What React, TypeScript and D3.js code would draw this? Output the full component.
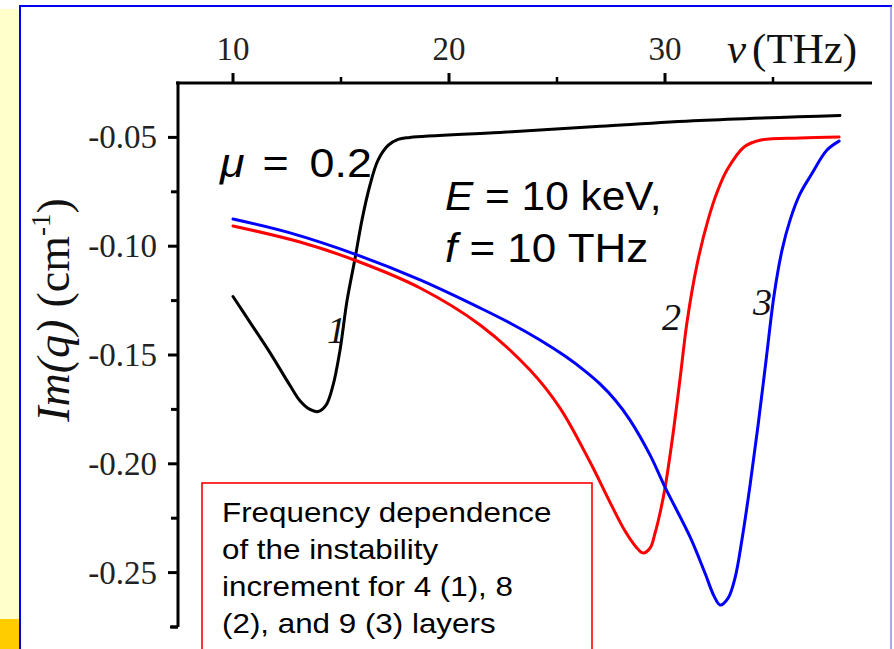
import React from "react";
import * as d3 from "d3";

// ---- data ----
const nu1 = [10, 10.79, 11.71, 12.64, 13.1, 13.56, 13.94, 14.3, 14.63, 14.95, 15.28, 15.65, 15.97, 16.34, 16.71, 17.18, 17.64, 18.19, 22.36, 27, 31.6, 38.1];
const im1 = [-0.1231, -0.135, -0.1489, -0.164, -0.171, -0.175, -0.176, -0.1732, -0.164, -0.148, -0.125, -0.1056, -0.088, -0.072, -0.0606, -0.0537, -0.0509, -0.05, -0.0477, -0.0449, -0.0422, -0.0399];

const nu2 = [10, 13.1, 15.74, 18.66, 21.44, 23.75, 25.14, 26.53, 27.45, 28.15, 28.66, 28.98, 29.31, 29.54, 29.77, 30.0, 30.32, 30.69, 31.02, 31.48, 31.99, 32.45, 32.87, 33.66, 34.44, 36.25, 38.06];
const im2 = [-0.0907, -0.0981, -0.1068, -0.1192, -0.1362, -0.1569, -0.1744, -0.1992, -0.2176, -0.2309, -0.2382, -0.241, -0.2387, -0.2318, -0.2226, -0.2111, -0.19, -0.1615, -0.1348, -0.1086, -0.088, -0.0742, -0.065, -0.0544, -0.0512, -0.0503, -0.0498];

const nu3 = [10, 12.64, 15.74, 18.66, 21.44, 22.82, 24.21, 25.37, 26.3, 26.99, 27.69, 28.38, 29.31, 30.0, 31.16, 31.85, 32.27, 32.55, 32.92, 33.24, 33.56, 33.94, 34.31, 34.68, 35.05, 35.42, 35.79, 36.25, 36.76, 37.5, 38.06];
const im3 = [-0.0875, -0.0939, -0.104, -0.1155, -0.1284, -0.1353, -0.1431, -0.1505, -0.1574, -0.1633, -0.1707, -0.1799, -0.196, -0.2107, -0.2336, -0.2502, -0.2608, -0.2649, -0.2617, -0.2525, -0.235, -0.2097, -0.1822, -0.1523, -0.1224, -0.1017, -0.088, -0.076, -0.0673, -0.0558, -0.0517];

const xMajor = [10, 20, 30];
const xMinor = [15, 25, 35];
const yMajor = [-0.05, -0.1, -0.15, -0.2, -0.25];
const yMinor = [-0.075, -0.125, -0.175, -0.225, -0.275];
const yTickLabels = ["-0.05", "-0.10", "-0.15", "-0.20", "-0.25"];

const curveLabels = [
  { t: "1", nu: 14.35, v: -0.1447 },
  { t: "2", nu: 29.86, v: -0.1387 },
  { t: "3", nu: 34.07, v: -0.1314 },
];

const captionLines = [
  "Frequency dependence",
  "of the instability",
  "increment for 4 (1), 8",
  "(2), and 9 (3) layers",
];

const W = 894;
const H = 649;

export default function App() {
  const x = d3.scaleLinear().domain([7.361, 39.583]).range([176, 872]);
  const y = d3.scaleLinear().domain([-0.275, -0.025]).range([627, 83]);
  const line = d3
    .line<[number, number]>()
    .x((d) => x(d[0]))
    .y((d) => y(d[1]))
    .curve(d3.curveCatmullRom.alpha(0.5));

  const series = [
    { nu: nu1, im: im1, color: "#000000" },
    { nu: nu2, im: im2, color: "#ff0000" },
    { nu: nu3, im: im3, color: "#0000ff" },
  ];

  const axisX0 = x.range()[0];
  const axisX1 = x.range()[1];
  const axisYTop = y.range()[1];
  const axisYBot = y.range()[0];
  const yAxisX = 178;

  const serif = "'Liberation Serif', 'Times New Roman', serif";
  const sans = "'Liberation Sans', Arial, sans-serif";
  const sx = 1.12;

  return (
    <svg
      width={W}
      height={H}
      style={{ position: "absolute", left: 0, top: 0, display: "block" }}
    >
      <rect x={0} y={0} width={W} height={H} fill="#ffffff" />
      {/* left decorative strip */}
      <rect x={0} y={9} width={19} height={H - 9} fill="#ffffcc" />
      <rect x={0} y={619} width={19} height={30} fill="#ffcc00" />
      {/* blue frame */}
      <line x1={20} y1={6} x2={892} y2={6} stroke="#0000ee" strokeWidth={2} />
      <line x1={20} y1={5} x2={20} y2={H} stroke="#0000ee" strokeWidth={2} />
      <line x1={891} y1={6} x2={891} y2={H} stroke="#5555cc" strokeWidth={1} />

      {/* axes */}
      <line x1={axisX0} y1={axisYTop} x2={axisX1} y2={axisYTop} stroke="#000" strokeWidth={3} />
      <line x1={yAxisX} y1={axisYTop - 1.5} x2={yAxisX} y2={axisYBot} stroke="#000" strokeWidth={3} />
      <line x1={yAxisX - 8} y1={axisYBot} x2={yAxisX} y2={axisYBot} stroke="#000" strokeWidth={3} />

      {xMajor.map((v) => (
        <g key={"xm" + v}>
          <line x1={x(v)} y1={axisYTop} x2={x(v)} y2={axisYTop - 10} stroke="#000" strokeWidth={3} />
          <text x={x(v)} y={60} textAnchor="middle" fontFamily={serif} fontSize={33} fill="#222">
            {String(v)}
          </text>
        </g>
      ))}
      {xMinor.map((v) => (
        <line key={"xn" + v} x1={x(v)} y1={axisYTop} x2={x(v)} y2={axisYTop - 6} stroke="#000" strokeWidth={2.5} />
      ))}
      {yMajor.map((v, i) => (
        <g key={"ym" + v}>
          <line x1={yAxisX - 10} y1={y(v)} x2={yAxisX} y2={y(v)} stroke="#000" strokeWidth={3} />
          <text x={157} y={y(v) + 11} textAnchor="end" fontFamily={serif} fontSize={33} fill="#222">
            {yTickLabels[i]}
          </text>
        </g>
      ))}
      {yMinor.map((v) => (
        <line key={"yn" + v} x1={yAxisX - 7} y1={y(v)} x2={yAxisX} y2={y(v)} stroke="#000" strokeWidth={3} />
      ))}

      {/* axis titles */}
      <text x={727} y={63} fontFamily={serif} fontSize={43} fill="#111">
        <tspan fontStyle="italic">ν</tspan>
        <tspan dx={6}>(THz)</tspan>
      </text>
      <text
        transform="translate(69,310) rotate(-90)"
        textAnchor="middle"
        fontFamily={serif}
        fontSize={46}
        fill="#111"
      >
        <tspan fontStyle="italic">Im(q)</tspan>
        <tspan dx={12}>(cm</tspan>
        <tspan fontSize={27} dy={-19}>-1</tspan>
        <tspan dy={19}>)</tspan>
      </text>

      {/* curves */}
      {series.map((s, i) => (
        <path
          key={"s" + i}
          d={line(s.nu.map((n, j) => [n, s.im[j]] as [number, number])) || ""}
          fill="none"
          stroke={s.color}
          strokeWidth={3}
          strokeLinejoin="round"
          strokeLinecap="round"
        />
      ))}

      {/* curve numbers */}
      {curveLabels.map((c) => (
        <text
          key={"cl" + c.t}
          x={x(c.nu)}
          y={y(c.v)}
          fontFamily={serif}
          fontStyle="italic"
          fontSize={38}
          fill="#111"
        >
          {c.t}
        </text>
      ))}

      {/* annotations */}
      <g transform={`translate(220,177) scale(${sx},1)`}>
        <text x={0} y={0} fontFamily={sans} fontSize={40} fill="#000">
          <tspan fontStyle="italic">μ</tspan>
          <tspan x={38}>=</tspan>
          <tspan x={80}>0.2</tspan>
        </text>
      </g>
      <g transform={`translate(445,210) scale(1.06,1)`}>
        <text x={0} y={0} fontFamily={sans} fontSize={40} fill="#000">
          <tspan fontStyle="italic">E</tspan>
          <tspan> = 10 keV,</tspan>
        </text>
      </g>
      <g transform={`translate(445,262) scale(1.1,1)`}>
        <text x={0} y={0} fontFamily={sans} fontSize={40} fill="#000">
          <tspan fontStyle="italic">f</tspan>
          <tspan> = 10 THz</tspan>
        </text>
      </g>

      {/* caption box */}
      <rect x={202} y={483} width={390} height={200} fill="#ffffff" stroke="#ff0000" strokeWidth={1.6} />
      {captionLines.map((t, i) => (
        <g key={"cap" + i} transform={`translate(222,${522 + i * 37}) scale(${sx},1)`}>
          <text x={0} y={0} fontFamily={sans} fontSize={28} fill="#000">
            {t}
          </text>
        </g>
      ))}
    </svg>
  );
}
